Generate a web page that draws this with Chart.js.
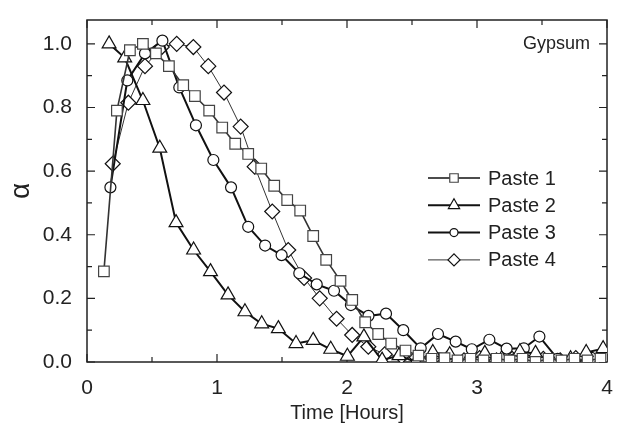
<!DOCTYPE html>
<html>
<head>
<meta charset="utf-8">
<script src="https://cdn.jsdelivr.net/npm/chart.js@4/dist/chart.umd.min.js"></script>
<style>
  html, body { margin: 0; padding: 0; background: #fff; }
</style>
</head>
<body>
<canvas id="chart" width="619" height="431"></canvas>
<script>
// Paste 1 (squares)
const paste1X = [0.13, 0.23, 0.33, 0.43, 0.53, 0.63, 0.74, 0.83, 0.94, 1.04, 1.14, 1.24, 1.34, 1.44, 1.54, 1.64, 1.74, 1.84, 1.95, 2.04, 2.14, 2.24, 2.34, 2.45, 2.55, 2.65, 2.75, 2.85, 2.95, 3.05, 3.15, 3.25, 3.35, 3.45, 3.55, 3.65, 3.75, 3.85, 3.95];
const paste1Y = [0.285, 0.79, 0.98, 1.0, 0.97, 0.93, 0.87, 0.836, 0.79, 0.737, 0.686, 0.654, 0.608, 0.554, 0.509, 0.476, 0.396, 0.321, 0.255, 0.195, 0.125, 0.088, 0.058, 0.036, 0.02, 0.01, 0.012, 0.005, 0.01, 0.005, 0.01, 0.005, 0.01, 0.0, 0.01, 0.005, 0.01, 0.005, 0.01];
// Paste 2 (triangles)
const paste2X = [0.17, 0.29, 0.43, 0.56, 0.685, 0.82, 0.95, 1.085, 1.215, 1.344, 1.472, 1.608, 1.74, 1.875, 2.003, 2.13, 2.27, 2.40, 2.53, 2.66, 2.79, 2.92, 3.06, 3.19, 3.33, 3.45, 3.58, 3.72, 3.84, 3.97];
const paste2Y = [1.0, 0.956, 0.822, 0.672, 0.438, 0.352, 0.284, 0.211, 0.158, 0.12, 0.105, 0.058, 0.068, 0.04, 0.018, 0.079, 0.006, 0.02, 0.0, 0.03, 0.023, 0.0, 0.027, 0.01, 0.032, 0.027, 0.0, 0.01, 0.03, 0.042];
// Paste 3 (circles)
const paste3X = [0.18, 0.31, 0.446, 0.58, 0.71, 0.838, 0.972, 1.108, 1.24, 1.37, 1.497, 1.633, 1.767, 1.9, 2.03, 2.165, 2.3, 2.433, 2.567, 2.7, 2.836, 2.96, 3.095, 3.228, 3.36, 3.48, 3.62, 3.75, 3.88, 3.99];
const paste3Y = [0.549, 0.885, 0.97, 1.01, 0.863, 0.744, 0.635, 0.549, 0.425, 0.366, 0.336, 0.279, 0.244, 0.224, 0.179, 0.145, 0.152, 0.1, 0.043, 0.088, 0.064, 0.04, 0.07, 0.042, 0.043, 0.08, 0.01, 0.0, 0.013, 0.017];
// Paste 4 (diamonds)
const paste4X = [0.198, 0.318, 0.446, 0.575, 0.69, 0.818, 0.933, 1.054, 1.182, 1.29, 1.425, 1.548, 1.67, 1.79, 1.92, 2.04, 2.164, 2.29, 2.42, 2.536, 2.66, 2.78, 2.9, 3.02, 3.15, 3.27, 3.39, 3.51, 3.64, 3.76, 3.88, 4.0];
const paste4Y = [0.623, 0.815, 0.93, 0.99, 1.0, 0.99, 0.93, 0.847, 0.74, 0.614, 0.473, 0.352, 0.264, 0.2, 0.136, 0.085, 0.048, 0.024, 0.018, 0.015, 0.01, 0.015, 0.005, 0.012, 0.005, 0.01, 0.0, 0.01, 0.005, 0.012, 0.005, 0.01];

const seriesNames = ["Paste 1", "Paste 2", "Paste 3", "Paste 4"];
const xTicks = [0, 1, 2, 3, 4];
const xMinorTicks = [0.5, 1.5, 2.5, 3.5];
const yTicks = [0, 0.2, 0.4, 0.6, 0.8, 1.0];
const yMinorTicks = [0.1, 0.3, 0.5, 0.7, 0.9];
const panelLabel = "Gypsum";
const xTitle = "Time [Hours]";
const yTitle = "\u03b1";

const FONT = "'Liberation Sans', Arial, sans-serif";

function pts(xs, ys) {
    return xs.map((x, i) => ({ x: x, y: ys[i] }));
}

const styles = [
    { line: "#333", lw: 1.6, style: "rect", r: 7.5, edge: "#444" },
    { line: "#111", lw: 2, style: "triangle", r: 8, edge: "#111" },
    { line: "#111", lw: 2, style: "circle", r: 5.5, edge: "#111" },
    { line: "#333", lw: 1, style: "rectRot", r: 7.5, edge: "#111" },
];

const allX = [paste1X, paste2X, paste3X, paste4X];
const allY = [paste1Y, paste2Y, paste3Y, paste4Y];

const datasets = seriesNames.map((name, i) => ({
    label: name,
    data: pts(allX[i], allY[i]),
    borderColor: styles[i].line,
    borderWidth: styles[i].lw,
    pointStyle: styles[i].style,
    pointRadius: styles[i].r,
    pointBorderColor: styles[i].edge,
    pointBorderWidth: 1.2,
    pointBackgroundColor: "#fff",
    tension: 0,
    fill: false,
    clip: 0,
}));

// frame, inward ticks, legend and panel label
const decorPlugin = {
    id: "decor",
    beforeDatasetsDraw(chart) {
        const ctx = chart.ctx;
        const a = chart.chartArea;
        const xs = chart.scales.x, ys = chart.scales.y;
        ctx.save();
        ctx.strokeStyle = "#222";
        ctx.lineWidth = 1.5;
        ctx.strokeRect(a.left, a.top, a.right - a.left, a.bottom - a.top);
        ctx.lineWidth = 1.2;
        ctx.beginPath();
        const xt = (v, len) => {
            const px = xs.getPixelForValue(v);
            ctx.moveTo(px, a.bottom); ctx.lineTo(px, a.bottom - len);
            ctx.moveTo(px, a.top); ctx.lineTo(px, a.top + len);
        };
        const yt = (v, len) => {
            const py = ys.getPixelForValue(v);
            ctx.moveTo(a.left, py); ctx.lineTo(a.left + len, py);
            ctx.moveTo(a.right, py); ctx.lineTo(a.right - len, py);
        };
        xTicks.forEach(v => xt(v, 8));
        xMinorTicks.forEach(v => xt(v, 5));
        yTicks.forEach(v => yt(v, 8));
        yMinorTicks.forEach(v => yt(v, 5));
        ctx.stroke();
        ctx.restore();
    },
    afterDraw(chart) {
        const ctx = chart.ctx;
        ctx.save();
        chart.data.datasets.forEach((ds, i) => {
            const y = 178 + i * 27.3;
            ctx.strokeStyle = i === 3 ? "#333" : "#111";
            ctx.lineWidth = ds.borderWidth;
            ctx.beginPath();
            ctx.moveTo(428, y); ctx.lineTo(480, y);
            ctx.stroke();
            ctx.fillStyle = "#fff";
            ctx.strokeStyle = ds.pointBorderColor;
            ctx.lineWidth = ds.pointBorderWidth;
            Chart.helpers.drawPoint(ctx, {
                pointStyle: ds.pointStyle, radius: ds.pointRadius - 1.5,
                rotation: 0, borderWidth: ds.pointBorderWidth
            }, 454, y);
            ctx.fillStyle = "#222";
            ctx.font = "20px " + FONT;
            ctx.textAlign = "left";
            ctx.textBaseline = "middle";
            ctx.fillText(ds.label, 488, y + 1);
        });
        ctx.fillStyle = "#222";
        ctx.font = "18px " + FONT;
        ctx.textAlign = "right";
        ctx.textBaseline = "middle";
        ctx.fillText(panelLabel, 590, 44);
        ctx.restore();
    }
};

new Chart(document.getElementById("chart"), {
    type: "line",
    data: { datasets: datasets },
    plugins: [decorPlugin],
    options: {
        responsive: false,
        animation: false,
        devicePixelRatio: 1,
        layout: { padding: { top: 20, right: 12, left: 0, bottom: 0 } },
        plugins: { legend: { display: false }, tooltip: { enabled: false } },
        scales: {
            x: {
                type: "linear",
                min: 0,
                max: 4,
                grid: { display: false },
                border: { display: false },
                afterBuildTicks: s => { s.ticks = xTicks.map(v => ({ value: v })); },
                afterFit: s => { s.height = 69; },
                ticks: {
                    padding: 6,
                    color: "#222",
                    font: { family: FONT, size: 21 },
                    callback: v => String(v),
                },
                title: {
                    display: true,
                    text: xTitle,
                    color: "#222",
                    font: { family: FONT, size: 20 },
                    padding: { top: 0, bottom: 6 },
                },
            },
            y: {
                type: "linear",
                min: 0,
                max: 1.075,
                grid: { display: false },
                border: { display: false },
                afterBuildTicks: s => { s.ticks = yTicks.map(v => ({ value: v })); },
                afterFit: s => { s.width = 87; },
                ticks: {
                    padding: 7,
                    color: "#222",
                    font: { family: FONT, size: 21 },
                    callback: v => Number(v).toFixed(1),
                },
                title: {
                    display: true,
                    text: yTitle,
                    color: "#222",
                    font: { family: FONT, size: 28 },
                    padding: { top: 4, bottom: 0 },
                },
            },
        },
    },
});
</script>
</body>
</html>
